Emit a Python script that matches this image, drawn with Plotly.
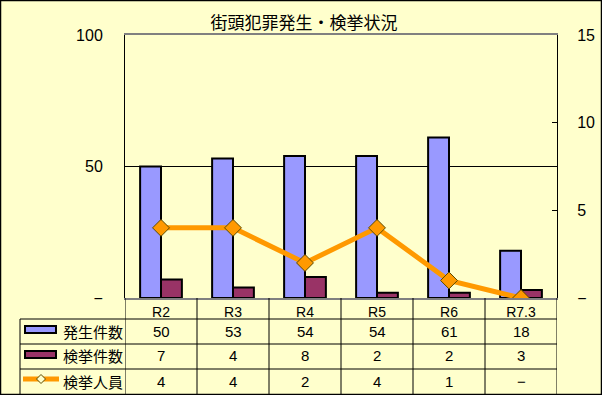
import plotly.graph_objects as go

categories = ["R2", "R3", "R4", "R5", "R6", "R7.3"]
occurrences = [50, 53, 54, 54, 61, 18]     # 発生件数
cleared = [7, 4, 8, 2, 2, 3]               # 検挙件数
arrested = [4, 4, 2, 4, 1, 0]              # 検挙人員
series_names = ["発生件数", "検挙件数", "検挙人員"]
left_ticks = [0, 50, 100]
right_ticks = [0, 5, 10, 15]

BG = "#FFFFCC"
BLUE = "#9999FF"
MAROON = "#993366"
ORANGE = "#FF9900"
FONT = "Liberation Sans, Noto Sans CJK JP, sans-serif"

W, H = 602, 395
L, R, T, B = 125, 557, 35, 298


def px(x):
    return (x - L) / (R - L)


def py(y):
    return (B - y) / (B - T)


def fmt(v):
    return "−" if v == 0 else str(v)


fig = go.Figure()
fig.add_trace(go.Bar(x=categories, y=occurrences, name=series_names[0],
                     marker=dict(color=BLUE, line=dict(color="black", width=2))))
fig.add_trace(go.Bar(x=categories, y=cleared, name=series_names[1],
                     marker=dict(color=MAROON, line=dict(color="black", width=2))))
fig.add_trace(go.Scatter(x=categories, y=arrested, name=series_names[2], yaxis="y2",
                         mode="lines+markers", line=dict(color=ORANGE, width=5),
                         marker=dict(symbol="diamond", size=13, color=ORANGE,
                                     line=dict(color="#5a4a00", width=1))))

shapes = []
annotations = []
n = len(categories)
# table vertical lines at category boundaries
for i in range(n + 1):
    shapes.append(dict(type="line", xref="x", yref="paper", x0=i - 0.5, x1=i - 0.5,
                       y0=py(298), y1=py(394), line=dict(color="black", width=1)))
# header column left line
shapes.append(dict(type="line", xref="paper", yref="paper", x0=px(20), x1=px(20),
                   y0=py(319), y1=py(394), line=dict(color="black", width=1)))
# horizontal row lines
for yy in (319, 344, 369):
    shapes.append(dict(type="line", xref="paper", yref="paper", x0=px(20), x1=px(557),
                       y0=py(yy), y1=py(yy), line=dict(color="black", width=1)))
# outer border
shapes.append(dict(type="rect", xref="paper", yref="paper", x0=px(0.5), x1=px(601.5),
                   y0=py(0.5), y1=py(394.5), line=dict(color="black", width=1.5)))

rows = [occurrences, cleared, arrested]
row_y = [331, 356, 381]
for vals, yy in zip(rows, row_y):
    for i, v in enumerate(vals):
        annotations.append(dict(x=i, xref="x", y=py(yy), yref="paper", text=fmt(v),
                                yanchor="middle", showarrow=False,
                                font=dict(size=15, color="black", family=FONT)))
for name, yy in zip(series_names, row_y):
    annotations.append(dict(x=px(61), xref="paper", y=py(yy), yref="paper", text=name,
                            xanchor="left", yanchor="middle", showarrow=False,
                            font=dict(size=15, color="black", family="Noto Sans CJK JP")))

# legend keys inside the table
shapes.append(dict(type="rect", xref="paper", yref="paper", x0=px(25), x1=px(56),
                   y0=py(326), y1=py(333), fillcolor=BLUE, line=dict(color="black", width=2)))
shapes.append(dict(type="rect", xref="paper", yref="paper", x0=px(25), x1=px(56),
                   y0=py(351), y1=py(358), fillcolor=MAROON, line=dict(color="black", width=2)))
shapes.append(dict(type="line", xref="paper", yref="paper", x0=px(23), x1=px(59),
                   y0=py(379), y1=py(379), line=dict(color=ORANGE, width=5)))
cx, cy, d = 41, 379, 4.5
shapes.append(dict(type="path", xref="paper", yref="paper",
                   path=f"M {px(cx - d)} {py(cy)} L {px(cx)} {py(cy - d)} L {px(cx + d)} {py(cy)} L {px(cx)} {py(cy + d)} Z",
                   fillcolor=BG, line=dict(color="#5a4a00", width=1)))

fig.update_layout(
    width=W, height=H,
    margin=dict(l=L, r=W - R, t=T, b=H - B, pad=0, autoexpand=False),
    paper_bgcolor=BG, plot_bgcolor=BG,
    barmode="group", bargap=0.42, bargroupgap=0,
    showlegend=False,
    font=dict(family=FONT, color="black"),
    title=dict(text="街頭犯罪発生・検挙状況", x=304 / W, xanchor="center",
               y=1 - 23 / H, yanchor="middle", yref="container",
               font=dict(size=17, family="Noto Sans CJK JP", color="black")),
    xaxis=dict(type="category", range=[-0.5, n - 0.5], showline=True, mirror=True,
               linecolor="#808080", linewidth=2, showgrid=False, ticks="",
               automargin=False, tickfont=dict(size=14, color="black"), fixedrange=True),
    yaxis=dict(range=[0, 100], tickvals=left_ticks, ticktext=[fmt(v) for v in left_ticks],
               showline=True, linecolor="black", linewidth=1, showgrid=True, automargin=False,
               gridcolor="black", gridwidth=1, zeroline=False, ticks="",
               ticklabelstandoff=18, tickfont=dict(size=16, color="black")),
    yaxis2=dict(range=[0, 15], overlaying="y", side="right", tickvals=right_ticks,
                ticktext=[fmt(v) for v in right_ticks], showline=True, linecolor="black",
                linewidth=1, showgrid=False, zeroline=False, ticks="inside", ticklen=5,
                automargin=False, tickcolor="black", ticklabelstandoff=16,
                tickfont=dict(size=16, color="black")),
    shapes=shapes,
    annotations=annotations,
)

fig.write_html("out.html", config={"displayModeBar": False},
               post_script="document.body.style.margin='0';")
